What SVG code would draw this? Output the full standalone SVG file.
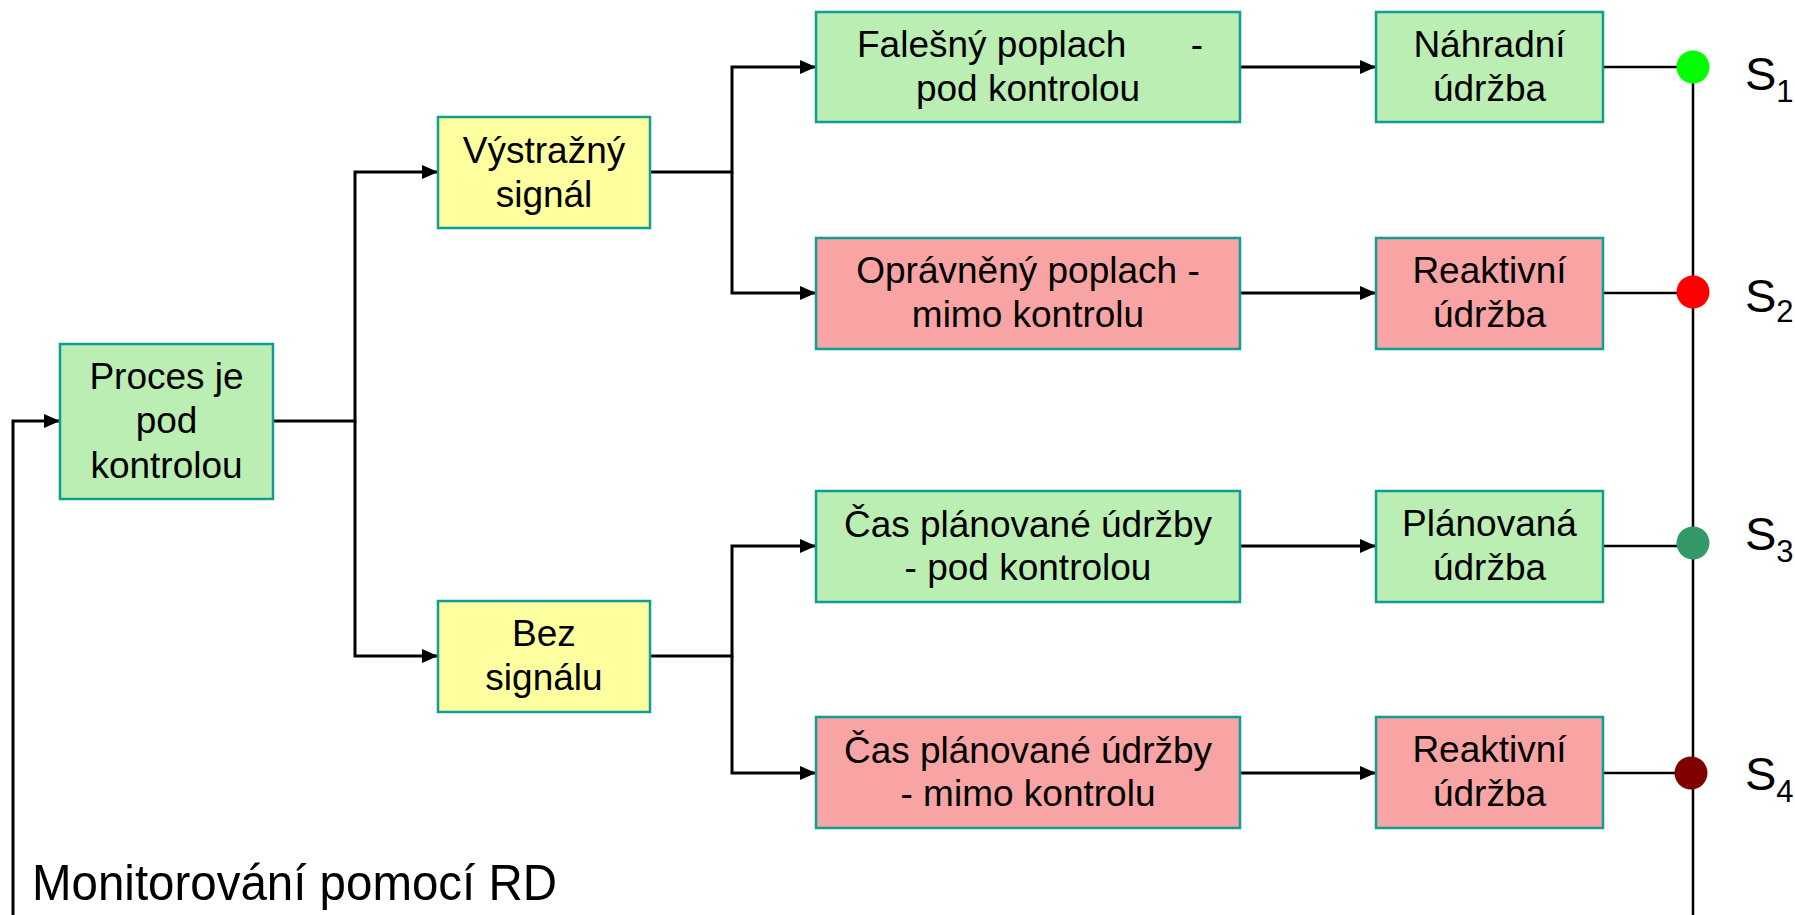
<svg xmlns="http://www.w3.org/2000/svg" width="1795" height="915" viewBox="0 0 1795 915">
<style>
.box{stroke:#0f9d96;stroke-width:2.5}
.g{fill:#bbeeb3}
.r{fill:#f8a4a4}
.y{fill:#ffff9f}
.t{font-family:"Liberation Sans",Arial,sans-serif;font-size:37px;fill:#000;text-anchor:middle}
.c{fill:none;stroke:#000;stroke-width:3}
.c2{fill:none;stroke:#000;stroke-width:2.5}
.s{font-family:"Liberation Sans",Arial,sans-serif;font-size:47px;fill:#000}
.sub{font-size:31px}
</style>
<defs>
<marker id="ah" markerUnits="userSpaceOnUse" markerWidth="16" markerHeight="14" refX="16" refY="7" orient="auto">
<path d="M0,0 L16,7 L0,14 z" fill="#000"/>
</marker>
</defs>
<rect width="1795" height="915" fill="#fff"/>
<g id="connectors">
<path class="c" d="M13,915 V421 H60" marker-end="url(#ah)"/>
<path class="c" d="M273,421 H355 V172 H438" marker-end="url(#ah)"/>
<path class="c" d="M355,421 V656 H438" marker-end="url(#ah)"/>
<path class="c" d="M650,172 H732 V67 H816" marker-end="url(#ah)"/>
<path class="c" d="M732,172 V293 H816" marker-end="url(#ah)"/>
<path class="c" d="M650,656 H732 V546 H816" marker-end="url(#ah)"/>
<path class="c" d="M732,656 V773 H816" marker-end="url(#ah)"/>
<path class="c" d="M1240,67 H1376" marker-end="url(#ah)"/>
<path class="c" d="M1240,293 H1376" marker-end="url(#ah)"/>
<path class="c" d="M1240,546 H1376" marker-end="url(#ah)"/>
<path class="c" d="M1240,773 H1376" marker-end="url(#ah)"/>
<path class="c2" d="M1603,67 H1693"/>
<path class="c2" d="M1603,293 H1693"/>
<path class="c2" d="M1603,546 H1693"/>
<path class="c2" d="M1603,773 H1693"/>
<path class="c2" d="M1693,67 V915"/>
</g>
<g id="proces">
<rect class="box g" x="60" y="344" width="213" height="155"/>
<text class="t" x="166.5"><tspan x="166.5" y="389">Proces je</tspan><tspan x="166.5" y="433">pod</tspan><tspan x="166.5" y="478">kontrolou</tspan></text>
</g>
<g id="vystrazny">
<rect class="box y" x="438" y="117" width="212" height="111"/>
<text class="t"><tspan x="544" y="163">Výstražný</tspan><tspan x="544" y="207">signál</tspan></text>
</g>
<g id="bez">
<rect class="box y" x="438" y="601" width="212" height="111"/>
<text class="t"><tspan x="544" y="646">Bez</tspan><tspan x="544" y="690">signálu</tspan></text>
</g>
<g id="falesny">
<rect class="box g" x="816" y="12" width="424" height="110"/>
<text class="t"><tspan x="857" y="57" text-anchor="start">Falešný poplach</tspan><tspan x="1197" y="57">-</tspan><tspan x="1028" y="101">pod kontrolou</tspan></text>
</g>
<g id="opravneny">
<rect class="box r" x="816" y="238" width="424" height="111"/>
<text class="t"><tspan x="1028" y="283">Oprávněný poplach -</tspan><tspan x="1028" y="327">mimo kontrolu</tspan></text>
</g>
<g id="cas-pod">
<rect class="box g" x="816" y="491" width="424" height="111"/>
<text class="t"><tspan x="1028" y="537">Čas plánované údržby</tspan><tspan x="1028" y="580">- pod kontrolou</tspan></text>
</g>
<g id="cas-mimo">
<rect class="box r" x="816" y="717" width="424" height="111"/>
<text class="t"><tspan x="1028" y="763">Čas plánované údržby</tspan><tspan x="1028" y="806">- mimo kontrolu</tspan></text>
</g>
<g id="nahradni">
<rect class="box g" x="1376" y="12" width="227" height="110"/>
<text class="t"><tspan x="1489.5" y="57">Náhradní</tspan><tspan x="1489.5" y="101">údržba</tspan></text>
</g>
<g id="reaktivni1">
<rect class="box r" x="1376" y="238" width="227" height="111"/>
<text class="t"><tspan x="1489.5" y="283">Reaktivní</tspan><tspan x="1489.5" y="327">údržba</tspan></text>
</g>
<g id="planovana">
<rect class="box g" x="1376" y="491" width="227" height="111"/>
<text class="t"><tspan x="1489.5" y="536">Plánovaná</tspan><tspan x="1489.5" y="580">údržba</tspan></text>
</g>
<g id="reaktivni2">
<rect class="box r" x="1376" y="717" width="227" height="111"/>
<text class="t"><tspan x="1489.5" y="762">Reaktivní</tspan><tspan x="1489.5" y="806">údržba</tspan></text>
</g>
<g id="s1">
<circle cx="1693" cy="67" r="16.5" fill="#00ff00"/>
<text class="s" x="1745" y="90">S<tspan class="sub" dy="12">1</tspan></text>
</g>
<g id="s2">
<circle cx="1693" cy="292" r="16.5" fill="#ff0000"/>
<text class="s" x="1745" y="312">S<tspan class="sub" dy="10">2</tspan></text>
</g>
<g id="s3">
<circle cx="1693" cy="543" r="16.5" fill="#339966"/>
<text class="s" x="1745" y="550">S<tspan class="sub" dy="12">3</tspan></text>
</g>
<g id="s4">
<circle cx="1691" cy="773" r="16.5" fill="#800000"/>
<text class="s" x="1745" y="790">S<tspan class="sub" dy="12">4</tspan></text>
</g>
<g id="monitorovani">
<text x="32" y="900" font-family="'Liberation Sans',Arial,sans-serif" font-size="50" textLength="525" lengthAdjust="spacingAndGlyphs">Monitorování pomocí RD</text>
</g>
</svg>
